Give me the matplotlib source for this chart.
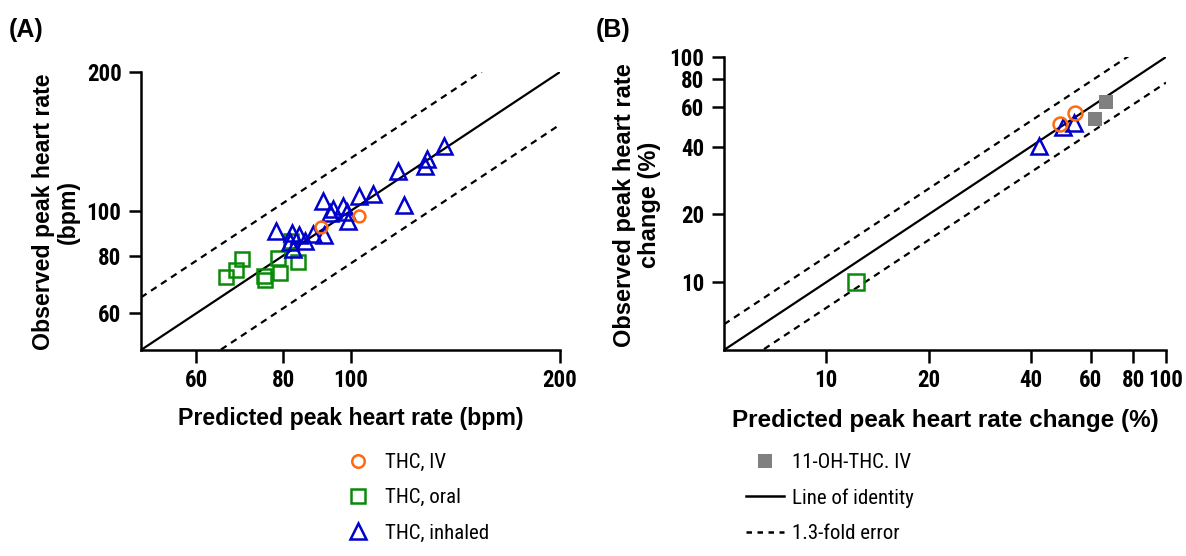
import numpy as np
import matplotlib
matplotlib.use("Agg")
import matplotlib.pyplot as plt
from matplotlib import font_manager
from matplotlib.ticker import NullLocator
from matplotlib.lines import Line2D

# ---------------- data ----------------
# Panel A: peak heart rate (bpm)
a_iv_pred = [90.6, 102.8]
a_iv_obs = [92.2, 97.7]
a_oral_pred = [66.3, 68.4, 69.8, 75.0, 75.3, 78.7, 79.3, 82.2, 84.1]
a_oral_obs = [72.0, 74.4, 78.7, 72.4, 70.8, 79.1, 73.4, 86.2, 77.4]
a_inh_pred = [78.2, 81.9, 82.4, 82.7, 84.3, 86.0, 88.4, 91.5, 91.3, 93.4, 94.3,
              97.6, 98.9, 99.2, 102.9, 107.6, 117.1, 119.4, 127.9, 128.9, 136.2]
a_inh_obs = [90.7, 85.8, 89.5, 82.8, 88.5, 86.3, 89.2, 88.5, 105.2, 98.9, 101.0,
             102.7, 99.5, 95.2, 107.9, 108.8, 122.1, 103.0, 125.1, 129.8, 138.2]

# Panel B: peak heart rate change (%)
b_iv_pred = [48.7, 54.1]
b_iv_obs = [50.5, 56.2]
b_oral_pred = [12.2]
b_oral_obs = [10.0]
b_inh_pred = [42.4, 49.6, 53.6]
b_inh_obs = [40.4, 48.7, 50.8]
b_oh_pred = [61.8, 66.8]
b_oh_obs = [53.1, 63.2]

fold = 1.3
a_lim = [50, 200]
b_lim = [5, 100]
a_ticks = [60, 80, 100, 200]
b_ticks = [10, 20, 40, 60, 80, 100]

labels_legend_left = ["THC, IV", "THC, oral", "THC, inhaled"]
labels_legend_right = ["11-OH-THC. IV", "Line of identity", "1.3-fold error"]

# ---------------- style ----------------
names = {f.name for f in font_manager.fontManager.ttflist}
narrow = "Roboto Condensed" if "Roboto Condensed" in names else "Liberation Sans"
plt.rcParams["font.family"] = ["Liberation Sans", "DejaVu Sans"]

c_iv = "#ff6a10"
c_oral = "#0a8a0a"
c_inh = "#0000cc"
c_oh = "#808080"

W, H = 1186, 556
fig = plt.figure(figsize=(W / 100, H / 100), dpi=100)


def px_axes(l, t, r, b):
    return [l / W, 1 - b / H, (r - l) / W, (b - t) / H]


axA = fig.add_axes(px_axes(141, 72, 560, 350))
axB = fig.add_axes(px_axes(724, 57, 1166, 350))

mk = dict(linestyle="none", markerfacecolor="none", markeredgewidth=1.8)


def style_axis(ax, lim, ticks):
    ax.set_xscale("log")
    ax.set_yscale("log")
    ax.set_xlim(lim)
    ax.set_ylim(lim)
    for s in ["top", "right"]:
        ax.spines[s].set_visible(False)
    for s in ["left", "bottom"]:
        ax.spines[s].set_linewidth(1.8)
    ax.set_xticks(ticks)
    ax.set_yticks(ticks)
    ax.set_xticklabels([str(t) for t in ticks])
    ax.set_yticklabels([str(t) for t in ticks])
    ax.xaxis.set_minor_locator(NullLocator())
    ax.yaxis.set_minor_locator(NullLocator())
    ax.tick_params(axis="both", length=9, width=1.8, direction="out")
    ax.tick_params(axis="x", pad=5)
    ax.tick_params(axis="y", pad=5)
    for lab in ax.get_xticklabels() + ax.get_yticklabels():
        lab.set_fontfamily(narrow)
        lab.set_fontweight("bold")
        lab.set_fontsize(16.5)
    # identity and fold-error lines
    x = np.array(lim, dtype=float)
    ax.plot(x, x, color="black", lw=1.6, zorder=1)
    ax.plot(x, x * fold, color="black", lw=1.6, dashes=(3, 2.4), zorder=1)
    ax.plot(x, x / fold, color="black", lw=1.6, dashes=(3, 2.4), zorder=1)


style_axis(axA, a_lim, a_ticks)
style_axis(axB, b_lim, b_ticks)

# Panel A points
axA.plot(a_oral_pred, a_oral_obs, marker="s", ms=10.5, markeredgecolor=c_oral, zorder=3, **mk)
axA.plot(a_inh_pred, a_inh_obs, marker="^", ms=12, markeredgecolor=c_inh, zorder=3, **mk)
axA.plot(a_iv_pred, a_iv_obs, marker="o", ms=8.5, markeredgecolor=c_iv, zorder=4, **mk)

# Panel B points
axB.plot(b_oh_pred, b_oh_obs, marker="s", ms=10, linestyle="none", color=c_oh,
         markeredgewidth=0, zorder=3)
axB.plot(b_oral_pred, b_oral_obs, marker="s", ms=11, markeredgecolor=c_oral, zorder=3, **mk)
axB.plot(b_inh_pred, b_inh_obs, marker="^", ms=12, markeredgecolor=c_inh, zorder=3, **mk)
axB.plot(b_iv_pred, b_iv_obs, marker="o", ms=10, markeredgecolor=c_iv, zorder=4, **mk)

# axis labels
axA.set_xlabel("Predicted peak heart rate (bpm)", fontsize=16.7, fontweight="bold", va="baseline")
axA.xaxis.set_label_coords(350.5 / W, 1 - 425 / H, transform=fig.transFigure)
axB.set_xlabel("Predicted peak heart rate change (%)", fontsize=17.5, fontweight="bold", va="baseline")
axB.xaxis.set_label_coords(945 / W, 1 - 427 / H, transform=fig.transFigure)
axA.set_ylabel("Observed peak heart rate\n(bpm)", va="center", ha="center",
               fontsize=16.7, fontweight="bold", linespacing=1.15)
axA.yaxis.set_label_coords(56 / W, 1 - 212 / H, transform=fig.transFigure)
axB.set_ylabel("Observed peak heart rate\nchange (%)", va="center", ha="center",
               fontsize=17, fontweight="bold", linespacing=1.15)
axB.yaxis.set_label_coords(637 / W, 1 - 205 / H, transform=fig.transFigure)

# panel letters
fig.text(9 / W, 1 - 30 / H, "(A)", fontsize=18, fontweight="bold", va="center", ha="left")
fig.text(596 / W, 1 - 30 / H, "(B)", fontsize=18, fontweight="bold", va="center", ha="left")

# legends
h_left = [
    Line2D([], [], marker="o", ms=9, markeredgecolor=c_iv, **mk),
    Line2D([], [], marker="s", ms=10, markeredgecolor=c_oral, **mk),
    Line2D([], [], marker="^", ms=11, markeredgecolor=c_inh, **mk),
]
h_right = [
    Line2D([], [], marker="s", ms=10, linestyle="none", color=c_oh, markeredgewidth=0),
    Line2D([], [], color="black", lw=1.8),
    Line2D([], [], color="black", lw=1.8, dashes=(2.2, 2.2)),
]
leg_kw = dict(frameon=False, loc="upper left", borderpad=0, borderaxespad=0,
              handlelength=1.8, handletextpad=0.42, labelspacing=0.78,
              prop={"family": narrow, "size": 15})
fig.legend(h_left, labels_legend_left, bbox_to_anchor=(339 / W, 1 - 453 / H), **leg_kw)
fig.legend(h_right, labels_legend_right, bbox_to_anchor=(746 / W, 1 - 453 / H), **leg_kw)

fig.savefig("out.png", dpi=100)
